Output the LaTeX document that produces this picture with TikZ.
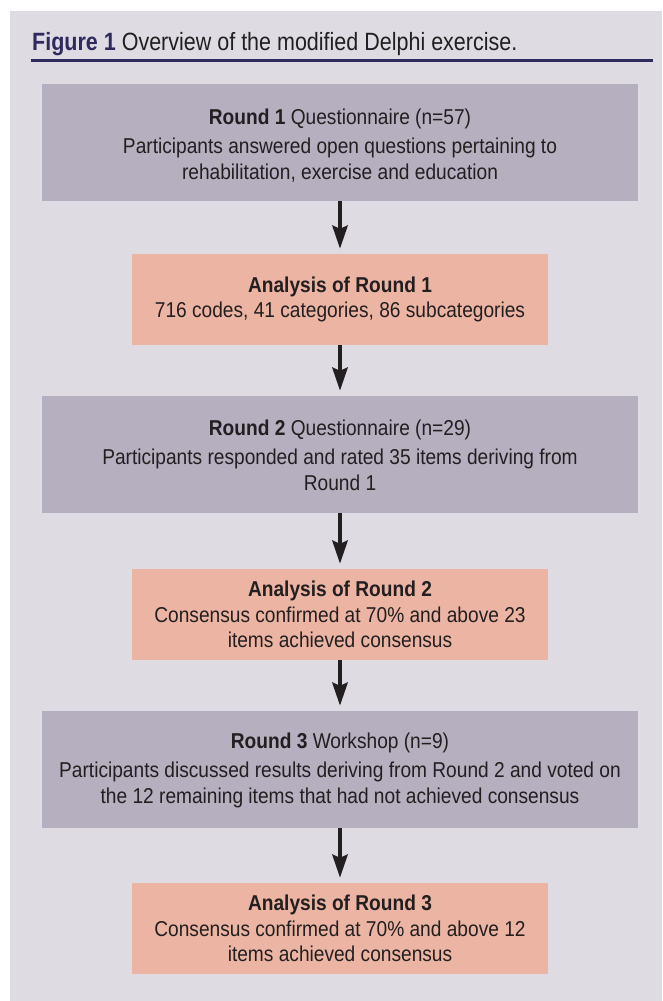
\documentclass[tikz,border=0pt]{standalone}
\usepackage{fontspec}
\setmainfont{Liberation Sans}
\newfontfamily\bodyfont[FakeStretch=0.89]{Liberation Sans}
\newfontfamily\titlefont[FakeStretch=0.86]{Liberation Sans}
\usetikzlibrary{arrows.meta}
\definecolor{panel}{HTML}{DEDBE3}
\definecolor{grayb}{HTML}{B5AFBF}
\definecolor{salmon}{HTML}{ECB5A3}
\definecolor{navy}{HTML}{2E2A5E}
\definecolor{ink}{HTML}{231F20}
\begin{document}
\begin{tikzpicture}[x=1pt,y=-1pt,
  basebox/.style={inner sep=0pt, align=center, text=ink,
    font=\bodyfont\fontsize{21.5}{25.5}\selectfont},
  roundbox/.style={basebox, fill=grayb, minimum width=596pt, minimum height=117pt},
  anbox/.style={basebox, fill=salmon, minimum width=416pt, minimum height=91pt},
  flow/.style={draw=ink, line width=4.5pt, shorten >=5pt,
    -{Stealth[width=15pt,length=23pt,inset=3pt]}}
]
\useasboundingbox (0,0) rectangle (662,1001);
\fill[white] (0,0) rectangle (662,1001);
\fill[panel] (10,11) rectangle (662,1001);
\node[anchor=base west, inner sep=0pt, text=ink,
  font=\titlefont\fontsize{25}{29}\selectfont] (title) at (32,50)
  {\textcolor{navy}{\bfseries Figure 1} Overview of the modified Delphi exercise.};
\coordinate (ruleL) at (31,60);
\coordinate (ruleR) at (653,60);
\draw[navy, line width=3pt] (ruleL) -- (ruleR);

\node[roundbox] (r1) at (340,142.5)
  {\rule{0pt}{21pt}{\bfseries Round 1} Questionnaire (n=57)\\[4pt]
   Participants answered open questions pertaining to\\
   rehabilitation, exercise and education};
\node[anbox] (a1) at (340,299.5)
  {{\bfseries Analysis of Round 1}\\
   716 codes, 41 categories, 86 subcategories};
\node[roundbox] (r2) at (340,454.5)
  {\rule{0pt}{17pt}{\bfseries Round 2} Questionnaire (n=29)\\[4pt]
   Participants responded and rated 35 items deriving from\\
   Round 1};
\node[anbox] (a2) at (340,614.5)
  {{\bfseries Analysis of Round 2}\\
   Consensus confirmed at 70\% and above 23\\
   items achieved consensus};
\node[roundbox] (r3) at (340,769.5)
  {\rule{0pt}{17pt}{\bfseries Round 3} Workshop (n=9)\\[4pt]
   Participants discussed results deriving from Round 2 and voted on\\
   the 12 remaining items that had not achieved consensus};
\node[anbox] (a3) at (340,928.5)
  {{\bfseries Analysis of Round 3}\\
   Consensus confirmed at 70\% and above 12\\
   items achieved consensus};

\draw[flow] (r1.south) -- (a1.north);
\draw[flow] (a1.south) -- (r2.north);
\draw[flow] (r2.south) -- (a2.north);
\draw[flow] (a2.south) -- (r3.north);
\draw[flow] (r3.south) -- (a3.north);
\end{tikzpicture}
\end{document}
